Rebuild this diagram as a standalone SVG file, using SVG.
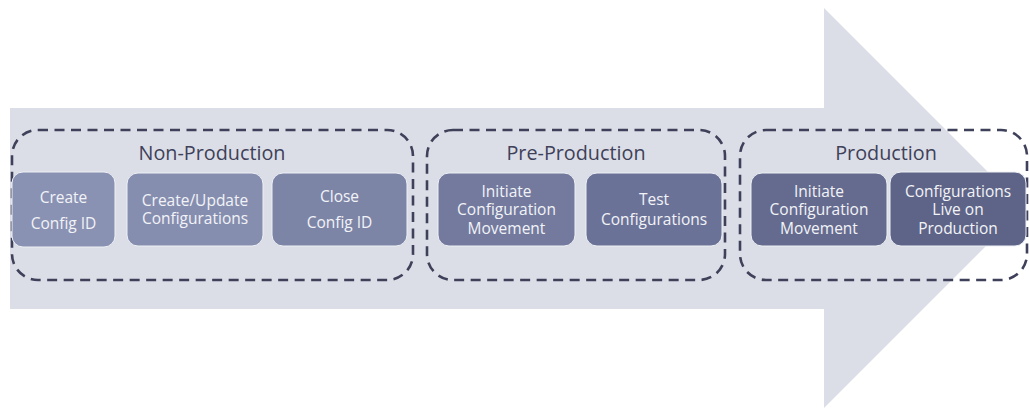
<svg xmlns="http://www.w3.org/2000/svg" width="1029" height="410" viewBox="0 0 1029 410">
<style>
.bg{fill:#ffffff}
.arrow{fill:#dcdee7}
.phase{fill:none;stroke:#3e4159;stroke-width:2.6;stroke-dasharray:10 6.5}
.title{font-family:"Open Sans","Noto Sans",sans-serif;font-size:19.8px;fill:#3e4159;text-anchor:middle}
.node rect{stroke:#eef0f5;stroke-width:1}
.lbl{font-family:"Open Sans","Noto Sans",sans-serif;font-size:15.5px;fill:#f2f3f7;text-anchor:middle}
</style>
<rect class="bg" x="0" y="0" width="1029" height="410"/>
<polygon class="arrow" points="10,108 824,108 824,8 1024,208 824,408 824,309 10,309"/>
<g id="phase-nonprod">
<rect class="phase" x="12" y="130" width="401" height="150" rx="26"/>
<text class="title" x="212" y="160">Non-Production</text>
</g>
<g id="phase-preprod">
<rect class="phase" x="427" y="130" width="298" height="150" rx="26"/>
<text class="title" x="576" y="160">Pre-Production</text>
</g>
<g id="phase-prod">
<rect class="phase" x="740" y="130" width="287" height="150" rx="26"/>
<text class="title" x="886" y="160">Production</text>
</g>
<g id="connectors"></g>
<g id="n1" class="node">
<rect x="12" y="172" width="103" height="75" rx="11" fill="#8a92b3"/>
<text class="lbl" x="63.5" y="202.5">Create</text>
<text class="lbl" x="63.5" y="228.5">Config ID</text>
</g>
<g id="n2" class="node">
<rect x="127" y="173" width="136" height="73" rx="11" fill="#868eb0"/>
<text class="lbl" x="195" y="205.5">Create/Update</text>
<text class="lbl" x="195" y="223.5">Configurations</text>
</g>
<g id="n3" class="node">
<rect x="272" y="173" width="135" height="73" rx="11" fill="#7d85a7"/>
<text class="lbl" x="339.5" y="201.5">Close</text>
<text class="lbl" x="339.5" y="227.5">Config ID</text>
</g>
<g id="n4" class="node">
<rect x="438" y="173" width="137" height="73" rx="11" fill="#737a9e"/>
<text class="lbl" x="506.5" y="196.5">Initiate</text>
<text class="lbl" x="506.5" y="215">Configuration</text>
<text class="lbl" x="506.5" y="233.5">Movement</text>
</g>
<g id="n5" class="node">
<rect x="586" y="173" width="136" height="73" rx="11" fill="#6b7298"/>
<text class="lbl" x="654" y="204.5">Test</text>
<text class="lbl" x="654" y="224.5">Configurations</text>
</g>
<g id="n6" class="node">
<rect x="751" y="173" width="136" height="73" rx="11" fill="#656b8f"/>
<text class="lbl" x="819" y="196.5">Initiate</text>
<text class="lbl" x="819" y="215">Configuration</text>
<text class="lbl" x="819" y="233.5">Movement</text>
</g>
<g id="n7" class="node">
<rect x="890" y="172" width="136" height="74" rx="11" fill="#5e6487"/>
<text class="lbl" x="958" y="196.5">Configurations</text>
<text class="lbl" x="958" y="215">Live on</text>
<text class="lbl" x="958" y="233.5">Production</text>
</g>
</svg>
